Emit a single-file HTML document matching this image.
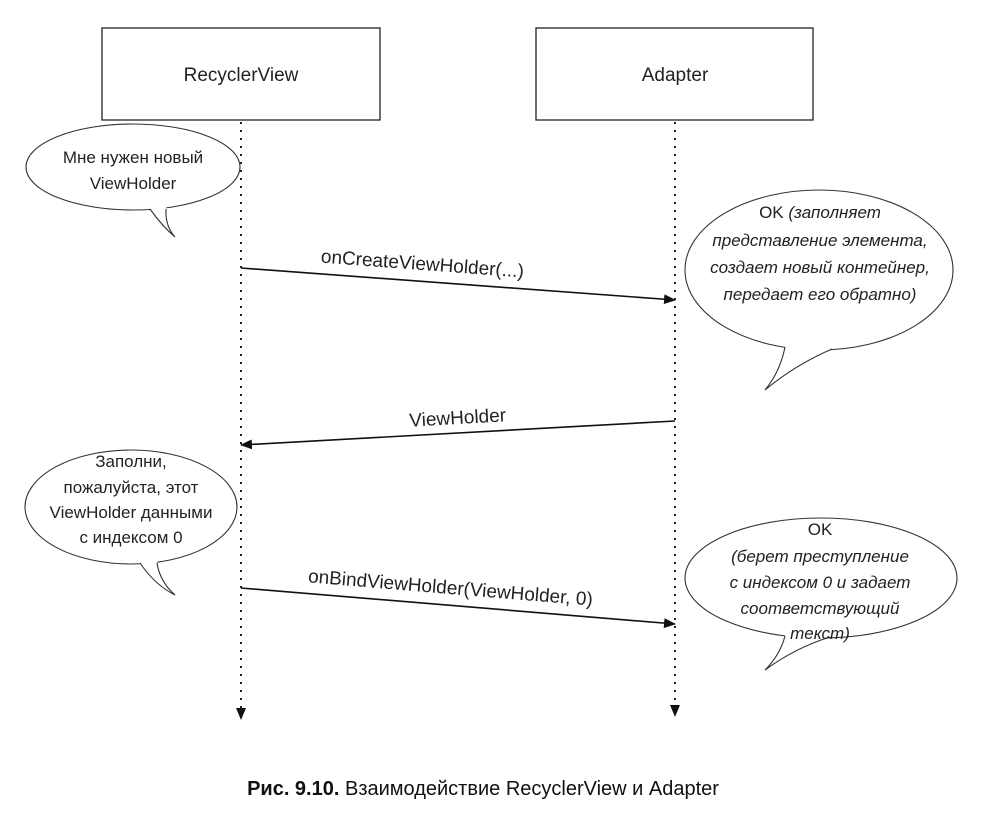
<!DOCTYPE html>
<html><head><meta charset="utf-8"><style>
body{margin:0;background:#fff;width:988px;height:818px;overflow:hidden}
svg text{font-family:"Liberation Sans","DejaVu Sans",sans-serif;fill:#222}
</style></head><body>
<svg width="988" height="818" viewBox="0 0 988 818" xmlns="http://www.w3.org/2000/svg">
<defs><marker id="a" markerWidth="12" markerHeight="10" refX="11" refY="5" orient="auto" markerUnits="userSpaceOnUse"><path d="M0,0 L12,5 L0,10 Z" fill="#111"/></marker></defs>
<rect x="102" y="28" width="278" height="92" fill="#fff" stroke="#222" stroke-width="1.3"/>
<rect x="536" y="28" width="277" height="92" fill="#fff" stroke="#222" stroke-width="1.3"/>
<text x="241" y="81" font-size="19" text-anchor="middle">RecyclerView</text>
<text x="675" y="81" font-size="19" text-anchor="middle">Adapter</text>
<line x1="241" y1="122" x2="241" y2="708" stroke="#222" stroke-width="2" stroke-dasharray="2,6"/>
<line x1="675" y1="122" x2="675" y2="705" stroke="#222" stroke-width="2" stroke-dasharray="2,6"/>
<path d="M236,708 L246,708 L241,720Z" fill="#111"/>
<path d="M670,705 L680,705 L675,717Z" fill="#111"/>
<g stroke="#111" stroke-width="1.6" fill="none">
<line x1="241" y1="268" x2="675" y2="300" marker-end="url(#a)"/>
<line x1="675" y1="421" x2="241" y2="445" marker-end="url(#a)"/>
<line x1="241" y1="588" x2="675" y2="624" marker-end="url(#a)"/>
</g>
<text x="422" y="270" font-size="19" text-anchor="middle" transform="rotate(4.2 422 270)">onCreateViewHolder(...)</text>
<text x="458" y="424" font-size="19" text-anchor="middle" transform="rotate(-3.2 458 424)">ViewHolder</text>
<text x="450" y="594" font-size="19" text-anchor="middle" transform="rotate(4.7 450 594)">onBindViewHolder(ViewHolder, 0)</text>
<g fill="#fff" stroke="#333" stroke-width="1.1">
<ellipse cx="133" cy="167" rx="107" ry="43"/>
<ellipse cx="819" cy="270" rx="134" ry="80"/>
<ellipse cx="131" cy="507" rx="106" ry="57"/>
<ellipse cx="821" cy="578" rx="136" ry="60"/>
</g>
<g fill="#fff" stroke="none">
<path d="M148,202 L150,209 Q162,226 175,237 Q165,226 166,209 L168,202Z"/>
<path d="M783,340 L785,347 Q780,372 765,390 Q795,365 832,349 L834,342Z"/>
<path d="M138,557 L140,563 Q155,585 175,595 Q160,582 157,563 L159,557Z"/>
<path d="M783,630 L785,636 Q780,655 765,670 Q795,648 830,637 L832,631Z"/>
</g>
<g fill="none" stroke="#333" stroke-width="1.1">
<path d="M150,209 Q162,226 175,237 Q165,226 166,209"/>
<path d="M785,347 Q780,372 765,390 Q795,365 832,349"/>
<path d="M140,563 Q155,585 175,595 Q160,582 157,563"/>
<path d="M785,636 Q780,655 765,670 Q795,648 830,637"/>
</g>
<g font-size="17" text-anchor="middle">
<text x="133" y="163">Мне нужен новый</text>
<text x="133" y="189">ViewHolder</text>
<text x="131" y="467">Заполни,</text>
<text x="131" y="493">пожалуйста, этот</text>
<text x="131" y="518">ViewHolder данными</text>
<text x="131" y="543">с индексом 0</text>
</g>
<g font-size="17" text-anchor="middle">
<text x="820" y="218">OK <tspan font-style="italic">(заполняет</tspan></text>
<text x="820" y="246" font-style="italic">представление элемента,</text>
<text x="820" y="273" font-style="italic">создает новый контейнер,</text>
<text x="820" y="300" font-style="italic">передает его обратно)</text>
<text x="820" y="535">OK</text>
<text x="820" y="562" font-style="italic">(берет преступление</text>
<text x="820" y="588" font-style="italic">с индексом 0 и задает</text>
<text x="820" y="614" font-style="italic">соответствующий</text>
<text x="820" y="639" font-style="italic">текст)</text>
</g>
<text x="483" y="795" font-size="20" text-anchor="middle" style="fill:#111"><tspan font-weight="bold">Рис. 9.10.</tspan> Взаимодействие RecyclerView и Adapter</text>
</svg>
</body></html>
